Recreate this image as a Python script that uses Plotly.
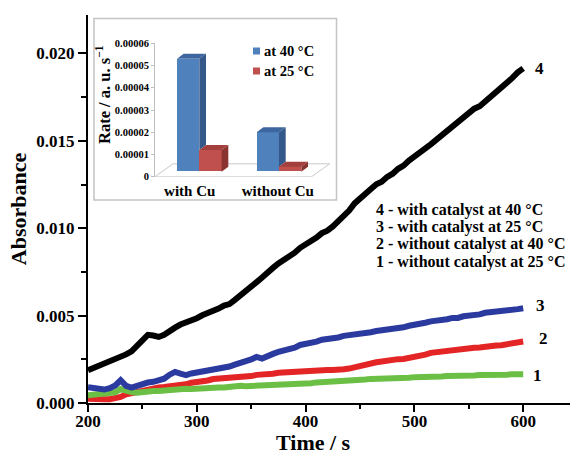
import plotly.graph_objects as go

# ---- kinetic traces: absorbance vs time (every 5 s) ----
time_s = list(range(200, 605, 5))

abs_4_cat_40 = [
    0.00187, 0.00200, 0.00208, 0.00224, 0.00230, 0.00248, 0.00256, 0.00278, 0.00296, 0.00330,
    0.00358, 0.00390, 0.00386, 0.00378, 0.00390, 0.00414, 0.00431, 0.00449, 0.00458, 0.00474,
    0.00485, 0.00502, 0.00513, 0.00528, 0.00540, 0.00557, 0.00566, 0.00590, 0.00613, 0.00642,
    0.00666, 0.00692, 0.00718, 0.00750, 0.00773, 0.00798, 0.00816, 0.00842, 0.00860, 0.00888,
    0.00906, 0.00932, 0.00946, 0.00972, 0.00986, 0.01010, 0.01038, 0.01074, 0.01101, 0.01142,
    0.01166, 0.01200, 0.01224, 0.01252, 0.01266, 0.01294, 0.01312, 0.01340, 0.01358, 0.01387,
    0.01408, 0.01434, 0.01456, 0.01480, 0.01505, 0.01532, 0.01550, 0.01577, 0.01603, 0.01636,
    0.01658, 0.01684, 0.01698, 0.01724, 0.01746, 0.01774, 0.01798, 0.01832, 0.01860, 0.01892,
    0.01915,
]

abs_3_cat_25 = [
    0.00090, 0.00085, 0.00080, 0.00077, 0.00085, 0.00100, 0.00130, 0.00098, 0.00088, 0.00098,
    0.00110, 0.00117, 0.00121, 0.00132, 0.00139, 0.00162, 0.00178, 0.00168, 0.00160, 0.00169,
    0.00174, 0.00180, 0.00185, 0.00194, 0.00196, 0.00205, 0.00209, 0.00220, 0.00226, 0.00240,
    0.00249, 0.00264, 0.00254, 0.00263, 0.00281, 0.00292, 0.00299, 0.00310, 0.00317, 0.00332,
    0.00337, 0.00347, 0.00351, 0.00362, 0.00364, 0.00372, 0.00375, 0.00384, 0.00387, 0.00395,
    0.00397, 0.00404, 0.00405, 0.00412, 0.00415, 0.00422, 0.00425, 0.00432, 0.00433, 0.00442,
    0.00445, 0.00454, 0.00459, 0.00467, 0.00469, 0.00476, 0.00479, 0.00487, 0.00487, 0.00496,
    0.00497, 0.00506, 0.00507, 0.00516, 0.00519, 0.00518, 0.00527, 0.00529, 0.00531, 0.00537,
    0.00542,
]

abs_2_nocat_40 = [
    0.00025, 0.00022, 0.00020, 0.00021, 0.00022, 0.00028, 0.00035, 0.00050, 0.00057, 0.00067,
    0.00072, 0.00079, 0.00083, 0.00089, 0.00091, 0.00095, 0.00095, 0.00103, 0.00107, 0.00116,
    0.00119, 0.00126, 0.00129, 0.00137, 0.00139, 0.00142, 0.00141, 0.00146, 0.00148, 0.00153,
    0.00154, 0.00161, 0.00161, 0.00166, 0.00167, 0.00173, 0.00175, 0.00181, 0.00182, 0.00187,
    0.00186, 0.00189, 0.00189, 0.00190, 0.00189, 0.00189, 0.00187, 0.00193, 0.00197, 0.00206,
    0.00211, 0.00219, 0.00224, 0.00233, 0.00237, 0.00244, 0.00246, 0.00251, 0.00252, 0.00257,
    0.00261, 0.00271, 0.00277, 0.00287, 0.00291, 0.00299, 0.00301, 0.00307, 0.00308, 0.00312,
    0.00311, 0.00316, 0.00317, 0.00323, 0.00324, 0.00329, 0.00331, 0.00337, 0.00339, 0.00347,
    0.00352,
]

abs_1_nocat_25 = [
    0.00044, 0.00047, 0.00047, 0.00051, 0.00053, 0.00061, 0.00080, 0.00067, 0.00062, 0.00059,
    0.00064, 0.00065, 0.00069, 0.00069, 0.00073, 0.00074, 0.00078, 0.00077, 0.00081, 0.00080,
    0.00083, 0.00082, 0.00086, 0.00085, 0.00089, 0.00089, 0.00094, 0.00095, 0.00099, 0.00096,
    0.00097, 0.00096, 0.00100, 0.00100, 0.00104, 0.00104, 0.00107, 0.00106, 0.00110, 0.00109,
    0.00112, 0.00113, 0.00118, 0.00119, 0.00123, 0.00123, 0.00127, 0.00126, 0.00130, 0.00130,
    0.00134, 0.00134, 0.00138, 0.00138, 0.00141, 0.00141, 0.00144, 0.00143, 0.00146, 0.00145,
    0.00148, 0.00147, 0.00150, 0.00149, 0.00151, 0.00151, 0.00154, 0.00153, 0.00156, 0.00155,
    0.00158, 0.00157, 0.00160, 0.00159, 0.00161, 0.00160, 0.00163, 0.00162, 0.00164, 0.00163,
    0.00164,
]

curve_names = ["4", "3", "2", "1"]
legend_lines = [
    "4 - with catalyst at 40 °C",
    "3 - with catalyst at 25 °C",
    "2 - without catalyst at 40 °C",
    "1 - without catalyst at 25 °C",
]

# ---- inset: initial rates ----
rate_categories = ["with Cu", "without Cu"]
rate_40C = [5.3e-5, 2.0e-5]
rate_25C = [1.2e-5, 0.45e-5]
rate_ticks = [0, 1e-5, 2e-5, 3e-5, 4e-5, 5e-5, 6e-5]
rate_tick_text = ["0", "0.00001", "0.00002", "0.00003", "0.00004", "0.00005", "0.00006"]

SERIF = "Liberation Serif, Times New Roman, serif"
BLACK = "#000000"
BLUE = "#2B3A9E"
RED = "#E32526"
GREEN = "#6CBF45"

# figure geometry (pixels) used to place paper-referenced items
W, H = 570, 455
ML, MR, MT, MB = 88, 0, 15, 52
PW, PH = W - ML - MR, H - MT - MB


def px(xp):
    return (xp - ML) / PW


def py(yp):
    return (H - MB - yp) / PH


fig = go.Figure()

# draw order: red, green, blue, black
for ys, col in [(abs_2_nocat_40, RED), (abs_1_nocat_25, GREEN),
                (abs_3_cat_25, BLUE), (abs_4_cat_40, BLACK)]:
    fig.add_trace(go.Scatter(
        x=time_s, y=ys, mode="lines",
        line=dict(color=col, width=6), showlegend=False, hoverinfo="skip",
    ))

# curve numbers at the end of each trace
label_dy = {"4": 0.0, "3": 0.00017, "2": 0.00018, "1": -0.00005}
label_dx = {"4": 9, "3": 10, "2": 13, "1": 7}
for name, ys in zip(curve_names, [abs_4_cat_40, abs_3_cat_25, abs_2_nocat_40, abs_1_nocat_25]):
    fig.add_annotation(
        x=time_s[-1] + label_dx[name], y=ys[-1] + label_dy[name],
        xref="x", yref="y", text=name, showarrow=False, xanchor="left",
        font=dict(family=SERIF, size=17, color="#000", weight="bold"),
    )

# text key
for i, line in enumerate(legend_lines):
    fig.add_annotation(
        x=px(374), y=py(209.5 + 17.4 * i), xref="paper", yref="paper",
        text=line, showarrow=False, xanchor="left", yanchor="middle",
        font=dict(family=SERIF, size=16, color="#000", weight="bold"),
    )

# x-axis title, set low in the bottom margin
fig.add_annotation(
    x=px(313), y=py(442), xref="paper", yref="paper", text="Time / s",
    showarrow=False, xanchor="center", yanchor="middle",
    font=dict(family=SERIF, size=22, color="#000", weight="bold"),
)

# ---- inset bar chart with a 3-D look ----
bar_w = 0.28          # bar width in category units
depth_dx = 0.084      # x shift of bar depth
depth_dy = 0.225e-5   # y shift of bar depth
bar_base = 0.225e-5   # bars stand in the middle of the floor
floor_dx, floor_dy = 0.225, 0.58e-5
x2_range = [-0.556, 1.703]
cat_pos = list(range(len(rate_categories)))

BLUE_F, BLUE_S, BLUE_T = "#4F81BD", "#34588A", "#3D66A0"
RED_F, RED_S, RED_T = "#C0504D", "#8A3330", "#A3403D"

fig.add_trace(go.Bar(
    x=cat_pos, y=[v - bar_base for v in rate_40C], base=bar_base,
    offset=-bar_w, width=bar_w, marker=dict(color=BLUE_F, line=dict(width=0)),
    xaxis="x2", yaxis="y2", showlegend=False, hoverinfo="skip",
))
fig.add_trace(go.Bar(
    x=cat_pos, y=[v - bar_base for v in rate_25C], base=bar_base,
    offset=0, width=bar_w, marker=dict(color=RED_F, line=dict(width=0)),
    xaxis="x2", yaxis="y2", showlegend=False, hoverinfo="skip",
))

shapes = []
# inset frame
shapes.append(dict(type="rect", xref="paper", yref="paper",
                   x0=px(94), x1=px(336.5), y0=py(200), y1=py(18.5),
                   line=dict(color="#C4C4C4", width=1.5), fillcolor="white", layer="below"))
# floor
fx0, fx1 = x2_range[0], 1.41
shapes.append(dict(
    type="path", xref="x2", yref="y2", layer="below",
    path=(f"M {fx0},0 L {fx0 + floor_dx},{floor_dy} L {fx1 + floor_dx},{floor_dy} "
          f"L {fx1},0 Z"),
    line=dict(color="#C8C8C8", width=1), fillcolor="rgba(0,0,0,0)",
))


def poly(pts):
    return "M " + " L ".join(f"{a},{b}" for a, b in pts) + " Z"


for i in cat_pos:
    # 40 °C bar (left), its side partly hidden by the 25 °C bar
    xl, xr, v = i - bar_w, i, rate_40C[i]
    low = max(bar_base, rate_25C[i])
    if v > low:
        shapes.append(dict(type="path", xref="x2", yref="y2", fillcolor=BLUE_S,
                           line=dict(width=0),
                           path=poly([(xr, low), (xr + depth_dx, low + depth_dy),
                                      (xr + depth_dx, v + depth_dy), (xr, v)])))
    shapes.append(dict(type="path", xref="x2", yref="y2", fillcolor=BLUE_T,
                       line=dict(width=0),
                       path=poly([(xl, v), (xl + depth_dx, v + depth_dy),
                                  (xr + depth_dx, v + depth_dy), (xr, v)])))
    # 25 °C bar (right)
    xl, xr, v = i, i + bar_w, rate_25C[i]
    shapes.append(dict(type="path", xref="x2", yref="y2", fillcolor=RED_S,
                       line=dict(width=0),
                       path=poly([(xr, bar_base), (xr + depth_dx, bar_base + depth_dy),
                                  (xr + depth_dx, v + depth_dy), (xr, v)])))
    shapes.append(dict(type="path", xref="x2", yref="y2", fillcolor=RED_T,
                       line=dict(width=0),
                       path=poly([(xl, v), (xl + depth_dx, v + depth_dy),
                                  (xr + depth_dx, v + depth_dy), (xr, v)])))

# inset key squares
shapes.append(dict(type="rect", xref="paper", yref="paper",
                   x0=px(253), x1=px(260), y0=py(54.5), y1=py(47.5),
                   fillcolor=BLUE_F, line=dict(width=0)))
shapes.append(dict(type="rect", xref="paper", yref="paper",
                   x0=px(253), x1=px(260), y0=py(74.5), y1=py(67.5),
                   fillcolor=RED_F, line=dict(width=0)))

for txt, yy in [("at 40 °C", 51), ("at 25 °C", 71)]:
    fig.add_annotation(x=px(262), y=py(yy), xref="paper", yref="paper", text=txt,
                       showarrow=False, xanchor="left", yanchor="middle",
                       font=dict(family=SERIF, size=14.5, color="#000", weight="bold"))

fig.add_annotation(x=px(103), y=py(95), xref="paper", yref="paper",
                   text="Rate / a. u. s<sup>−1</sup>", textangle=-90, showarrow=False,
                   xanchor="center", yanchor="middle",
                   font=dict(family=SERIF, size=16.5, color="#000", weight="bold"))

fig.update_layout(
    width=W, height=H,
    margin=dict(l=ML, r=MR, t=MT, b=MB, pad=0),
    paper_bgcolor="white", plot_bgcolor="white",
    shapes=shapes,
    bargap=0,
    xaxis=dict(
        range=[200, 643], tickvals=[200, 300, 400, 500, 600],
        ticks="outside", ticklen=7, tickwidth=2, tickcolor="#000",
        minor=dict(dtick=50, tick0=200, ticks="outside", ticklen=4, tickwidth=2, tickcolor="#000"),
        showline=True, linecolor="#000", linewidth=2,
        showgrid=False, zeroline=False, automargin=False,
        ticklabelstandoff=-5,
        tickfont=dict(family=SERIF, size=17, color="#000", weight="bold"),
    ),
    yaxis=dict(
        range=[0, 0.0222], tickvals=[0, 0.005, 0.010, 0.015, 0.020], tickformat=".3f",
        ticks="outside", ticklen=8, tickwidth=2, tickcolor="#000",
        minor=dict(dtick=0.0025, tick0=0, ticks="outside", ticklen=5, tickwidth=2, tickcolor="#000"),
        showline=True, linecolor="#000", linewidth=2,
        showgrid=False, zeroline=False, automargin=False,
        tickfont=dict(family=SERIF, size=17, color="#000", weight="bold"),
        title=dict(text="Absorbance", standoff=4,
                   font=dict(family=SERIF, size=22, color="#000", weight="bold")),
    ),
    xaxis2=dict(
        domain=[px(155), px(335)], range=x2_range, anchor="y2",
        tickvals=[-0.12, 0.985], ticktext=rate_categories, ticks="",
        ticklabelstandoff=3,
        showline=False, showgrid=False, zeroline=False,
        tickfont=dict(family=SERIF, size=15, color="#000", weight="bold"),
    ),
    yaxis2=dict(
        domain=[py(176.7), py(43.3)], range=[0, 6e-5], anchor="x2",
        tickvals=rate_ticks, ticktext=rate_tick_text,
        ticks="outside", ticklen=3, tickcolor="#BFBFBF", tickwidth=1,
        showline=True, linecolor="#BFBFBF", linewidth=1,
        showgrid=False, zeroline=False,
        tickfont=dict(family=SERIF, size=10.5, color="#000", weight="bold"),
    ),
)

fig.write_html("out.html")
